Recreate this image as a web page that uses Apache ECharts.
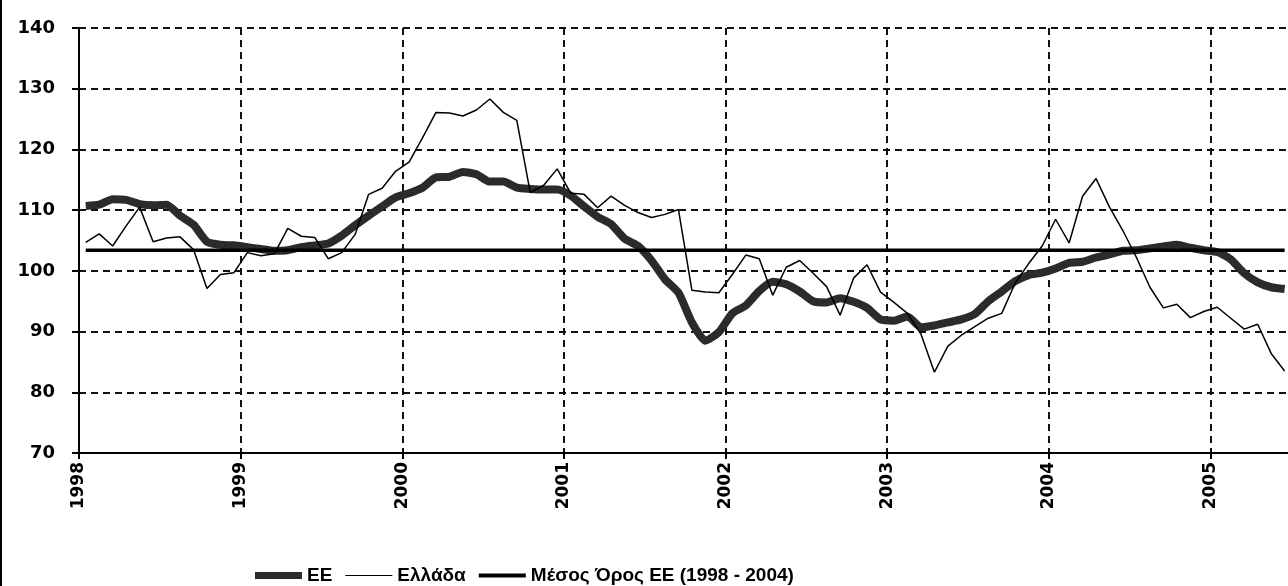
<!DOCTYPE html>
<html>
<head>
<meta charset="utf-8">
<script src="https://cdn.jsdelivr.net/npm/echarts@6/dist/echarts.min.js"></script>
<style>
  html, body { margin: 0; padding: 0; background: #fff; }
  #chart { width: 1288px; height: 586px; }
</style>
</head>
<body>
<div id="chart"></div>
<script>
// monthly index, Jan 1998 .. Jun 2005 (point i sits in the middle of month i)
const startYear = 1998;
const yearTicks = [0, 12, 24, 36, 48, 60, 72, 84]; // months since Jan 1998

const euIndex = [
  110.7, 110.9, 111.8, 111.7, 111.0, 110.8, 110.9, 109.1, 107.6, 104.8, 104.3, 104.2,
  103.9, 103.6, 103.3, 103.4, 103.9, 104.2, 104.5, 105.8, 107.5, 109.1, 110.6, 112.1,
  112.8, 113.7, 115.4, 115.5, 116.3, 115.9, 114.7, 114.7, 113.7, 113.5, 113.4, 113.4,
  112.4, 110.6, 108.9, 107.7, 105.3, 104.1, 101.7, 98.6, 96.4, 91.5, 88.5, 89.9,
  93.0, 94.3, 96.7, 98.2, 97.8, 96.6, 95.0, 94.8, 95.5, 94.9, 93.9, 92.0,
  91.8, 92.5, 90.7, 91.0, 91.5, 92.0, 92.9, 95.0, 96.6, 98.3, 99.3, 99.7,
  100.4, 101.3, 101.5, 102.2, 102.7, 103.3, 103.4, 103.7, 104.0, 104.3, 103.8, 103.4,
  103.1, 101.9, 99.6, 98.1, 97.3, 97.0
];

const greeceIndex = [
  104.7, 106.1, 104.1, 107.4, 110.5, 104.8, 105.4, 105.6, 103.5, 97.1, 99.4, 99.7,
  103.0, 102.5, 102.8, 107.0, 105.7, 105.5, 102.0, 103.0, 106.0, 112.6, 113.6, 116.4,
  117.9, 121.9, 126.1, 126.0, 125.5, 126.5, 128.3, 126.1, 124.8, 112.9, 114.1, 116.8,
  112.8, 112.6, 110.4, 112.3, 110.8, 109.6, 108.8, 109.3, 110.1, 96.8, 96.5, 96.4,
  99.4, 102.6, 102.0, 96.0, 100.6, 101.7, 99.6, 97.4, 92.7, 98.8, 101.0, 96.5,
  94.8, 93.0, 89.6, 83.3, 87.6, 89.4, 90.8, 92.2, 93.0, 98.0, 101.2, 104.1,
  108.5, 104.6, 112.3, 115.2, 110.5, 106.6, 102.2, 97.3, 93.9, 94.5, 92.3, 93.3,
  94.0, 92.2, 90.4, 91.2, 86.4, 83.5
];

const euAverage = 103.4;
const seriesNames = ['ΕΕ', 'Ελλάδα', 'Μέσος Όρος ΕΕ (1998 - 2004)'];

function toPoints(values) {
  return values.map((v, i) => [i + 0.5, v]);
}

const labelFont = { fontFamily: 'DejaVu Sans', fontWeight: 'bold', fontSize: 18, color: '#000' };
const gridDash = { color: '#111', width: 2, type: [7, 5] };

const myChart = echarts.init(document.getElementById('chart'));
myChart.setOption({
  animation: false,
  backgroundColor: '#fff',
  grid: { left: 79, right: -2, top: 28, bottom: 133 },
  graphic: [{
    type: 'rect', left: 0, top: 0,
    shape: { width: 2, height: 586 },
    style: { fill: '#000' }
  }],
  legend: {
    left: 250,
    top: 561,
    itemWidth: 47,
    itemHeight: 14,
    itemGap: 13,
    itemStyle: { borderWidth: 0 },
    textStyle: { fontFamily: 'Liberation Sans', fontWeight: 'bold', fontSize: 19, color: '#000' },
    // flat bars of different thickness, like the line widths
    data: [
      { name: seriesNames[0], icon: 'path://M0 0H47V7H0Z', itemStyle: { color: '#2b2b2b' } },
      { name: seriesNames[1], icon: 'path://M0 0H47V1.2H0Z', itemStyle: { color: '#000' } },
      { name: seriesNames[2], icon: 'path://M0 0H47V4H0Z', itemStyle: { color: '#000' } }
    ]
  },
  xAxis: {
    type: 'value',
    min: 0,
    max: 89.75,
    interval: 6,
    axisLine: { lineStyle: { color: '#000', width: 2 } },
    axisTick: { customValues: yearTicks, length: 6, lineStyle: { color: '#000', width: 2 } },
    axisLabel: Object.assign({
      customValues: yearTicks,
      rotate: 90,
      margin: 9,
      formatter: v => String(startYear + Math.round(v / 12))
    }, labelFont, { fontSize: 17 }),
    splitLine: { show: true, lineStyle: gridDash }
  },
  yAxis: {
    type: 'value',
    min: 70,
    max: 140,
    interval: 10,
    axisLine: { show: true, lineStyle: { color: '#000', width: 2 } },
    axisTick: { show: true, length: 7, lineStyle: { color: '#000', width: 2 } },
    axisLabel: Object.assign({ margin: 24 }, labelFont),
    splitLine: { show: true, lineStyle: gridDash }
  },
  series: [
    {
      name: seriesNames[0],
      type: 'line',
      data: toPoints(euIndex),
      symbol: 'none',
      smooth: 0.2,
      z: 3,
      lineStyle: { color: '#2b2b2b', width: 8 },
      itemStyle: { color: '#2b2b2b' }
    },
    {
      name: seriesNames[1],
      type: 'line',
      data: toPoints(greeceIndex),
      symbol: 'none',
      z: 5,
      lineStyle: { color: '#000', width: 1.5 },
      itemStyle: { color: '#000' }
    },
    {
      name: seriesNames[2],
      type: 'line',
      data: toPoints(euIndex.map(() => euAverage)),
      symbol: 'none',
      z: 4,
      lineStyle: { color: '#000', width: 3.5 },
      itemStyle: { color: '#000' }
    }
  ]
});
</script>
</body>
</html>
